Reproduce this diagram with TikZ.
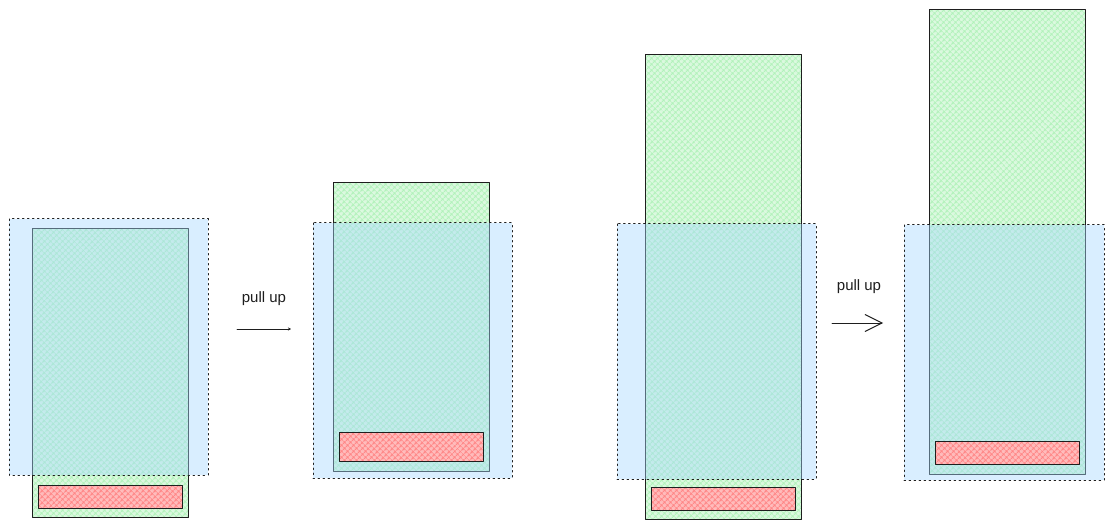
\documentclass[tikz,border=0pt]{standalone}
\usepackage{fontspec}
\setmainfont{Liberation Sans}
\usetikzlibrary{patterns.meta,arrows.meta}
\definecolor{inkc}{HTML}{1E1E1E}
\definecolor{bluehatch}{HTML}{A5D8FF}
\definecolor{greenhatch}{HTML}{B2F2BB}
\definecolor{redhatch}{HTML}{FF8787}
\tikzset{
  hatchfill/.style={pattern={Hatch[angle=45,distance=4pt,line width=1.1pt]},pattern color=#1},
  greenbox/.style={preaction={fill=greenhatch!45},hatchfill=greenhatch,draw=inkc,line width=1pt},
  redbox/.style={preaction={fill=redhatch!55},hatchfill=redhatch,draw=inkc,line width=1pt},
  bluebox/.style={fill=bluehatch,fill opacity=0.42,draw=inkc,draw opacity=1,line width=1pt,dash pattern=on 1.5pt off 3.5pt},
  pulllabel/.style={font=\fontsize{15}{17}\selectfont,text=inkc,inner sep=0pt}
}
\begin{document}
\begin{tikzpicture}[x=1pt,y=-1pt,line join=round,line cap=round]
\useasboundingbox[fill=white] (0,0) rectangle (1113,529);
% green left edge / green top / green bottom / blue left, right, top, bottom / red top, bottom
\foreach \gx/\gt/\gb/\bl/\br/\bt/\bb/\rt/\rb in {32/229/517/9/208/219/475/485/508,
    333/183/471/313/512/223/478/432/461,
    645/55/519/617/816/224/479/487/510,
    929/10/474/904/1104/225/480/441/464}{
  \draw[greenbox] (\gx,\gt) rectangle ++(156,\gb-\gt);
  \draw[bluebox] (\bl,\bt) rectangle (\br,\bb);
  \draw[redbox] (\gx+6,\rt) rectangle (\gx+150,\rb);
}
\path
(237,329) coordinate (s1)
(291,329) coordinate (e1)
(832,323) coordinate (s2)
(883,323) coordinate (e2);
\draw[draw=inkc,line width=1pt,-{Stealth[length=3pt,width=3pt]}] (s1) -- (e1);
\draw[draw=inkc,line width=1pt,-{Straight Barb[length=17pt,width=17pt,line width=1pt]}] (s2) -- (e2);
\node[pulllabel] (lab1) at (264,299) {pull up};
\node[pulllabel] (lab2) at (859,287) {pull up};
\end{tikzpicture}
\end{document}
